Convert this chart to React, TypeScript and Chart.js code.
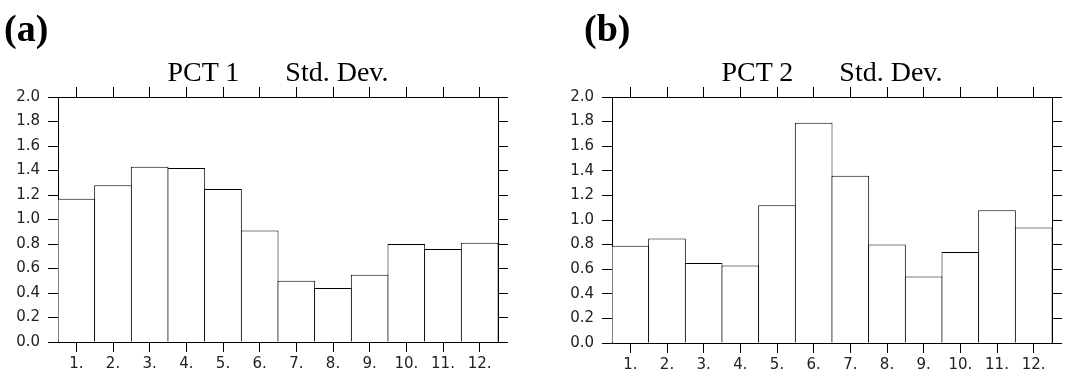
import React, { useEffect, useRef } from "react";
import { Chart, registerables } from "chart.js";

Chart.register(...registerables);

// Month index labels along the bottom axis
const MONTH_LABELS = ["1.", "2.", "3.", "4.", "5.", "6.", "7.", "8.", "9.", "10.", "11.", "12."];

// Monthly standard deviation of each principal component time series
const PCT1_STD = [1.17, 1.28, 1.43, 1.42, 1.25, 0.91, 0.5, 0.44, 0.55, 0.8, 0.76, 0.81];
const PCT2_STD = [0.79, 0.85, 0.65, 0.63, 1.12, 1.79, 1.36, 0.8, 0.54, 0.74, 1.08, 0.94];

// Value axis range
const Y_MIN = 0;
const Y_MAX = 2;
const Y_STEP = 0.2;

type PanelProps = {
  letter: string;
  heading: [string, string];
  values: number[];
  x: number;
  w: number;
  letterLeft: number;
  axisLeft: number;
  axisRight: number;
  axisTop: number;
  axisBottom: number;
};

const H = 383;

function Panel(props: PanelProps) {
  const { letter, heading, values, x, w, letterLeft, axisLeft, axisRight, axisTop, axisBottom } = props;
  const ref = useRef<HTMLCanvasElement>(null);

  useEffect(() => {
    if (!ref.current) return;
    const plotWidth = w - axisLeft - axisRight;
    // widen bars by one pixel so neighbouring outlines fall on the same line
    const barPct = 1 + MONTH_LABELS.length / plotWidth;

    const tickGrid = {
      display: true,
      drawOnChartArea: false,
      drawTicks: true,
      tickLength: 10,
      color: "#000",
      lineWidth: 1,
      offset: false,
    };
    const border = { display: true, color: "#000", width: 1 };
    const tickFont = { family: "DejaVu Sans", size: 15 };

    const chart = new Chart(ref.current, {
      type: "bar",
      data: {
        labels: MONTH_LABELS,
        datasets: [
          {
            data: values,
            backgroundColor: "#fff",
            borderColor: "#000",
            borderWidth: 1,
            barPercentage: barPct,
            categoryPercentage: 1,
            xAxisID: "x",
            yAxisID: "y",
          },
        ],
      },
      options: {
        responsive: false,
        animation: false,
        devicePixelRatio: 1,
        layout: { padding: 0 },
        plugins: {
          legend: { display: false },
          tooltip: { enabled: false },
          title: { display: false },
        },
        scales: {
          x: {
            type: "category",
            position: "bottom",
            offset: true,
            grid: tickGrid,
            border,
            ticks: {
              color: "#222",
              font: tickFont,
              padding: 3,
              autoSkip: false,
              maxRotation: 0,
            },
            afterFit: (s: any) => {
              s.height = axisBottom;
            },
          },
          xTop: {
            type: "category",
            position: "top",
            offset: true,
            grid: tickGrid,
            border,
            ticks: { display: false },
            afterFit: (s: any) => {
              s.height = axisTop;
            },
          },
          y: {
            type: "linear",
            position: "left",
            min: Y_MIN,
            max: Y_MAX,
            grid: tickGrid,
            border,
            ticks: {
              stepSize: Y_STEP,
              color: "#222",
              font: tickFont,
              padding: 8,
              callback: (v: any) => Number(v).toFixed(1),
            },
            afterFit: (s: any) => {
              s.width = axisLeft;
            },
          },
          yRight: {
            type: "linear",
            position: "right",
            min: Y_MIN,
            max: Y_MAX,
            grid: tickGrid,
            border,
            ticks: { display: false, stepSize: Y_STEP },
            afterFit: (s: any) => {
              s.width = axisRight;
            },
          },
        },
      } as any,
    });
    return () => chart.destroy();
  }, []);

  const centre = x + (axisLeft + (w - axisRight)) / 2;

  return (
    <>
      <canvas
        ref={ref}
        width={w}
        height={H}
        style={{ position: "absolute", left: x, top: 0, width: w, height: H, display: "block" }}
      />
      <div
        style={{
          position: "absolute",
          left: letterLeft,
          top: 9,
          fontFamily: "Liberation Serif",
          fontWeight: "bold",
          fontSize: 38,
          lineHeight: 1,
          color: "#000",
          whiteSpace: "pre",
        }}
      >
        {letter}
      </div>
      <div
        style={{
          position: "absolute",
          left: centre,
          top: 58,
          transform: "translateX(-50%)",
          fontFamily: "Liberation Serif",
          fontSize: 28,
          lineHeight: 1,
          color: "#000",
          whiteSpace: "pre",
        }}
      >
        <span>{heading[0]}</span>
        <span style={{ marginLeft: 46 }}>{heading[1]}</span>
      </div>
    </>
  );
}

export default function App() {
  return (
    <div
      style={{
        position: "absolute",
        left: 0,
        top: 0,
        width: 1071,
        height: H,
        background: "#fff",
        overflow: "hidden",
      }}
    >
      <Panel
        letter="(a)"
        heading={["PCT 1", "Std. Dev."]}
        values={PCT1_STD}
        x={0}
        w={535}
        letterLeft={4}
        axisLeft={58}
        axisRight={37}
        axisTop={97}
        axisBottom={41}
      />
      <Panel
        letter="(b)"
        heading={["PCT 2", "Std. Dev."]}
        values={PCT2_STD}
        x={535}
        w={536}
        letterLeft={584}
        axisLeft={77}
        axisRight={19}
        axisTop={97}
        axisBottom={40}
      />
    </div>
  );
}
